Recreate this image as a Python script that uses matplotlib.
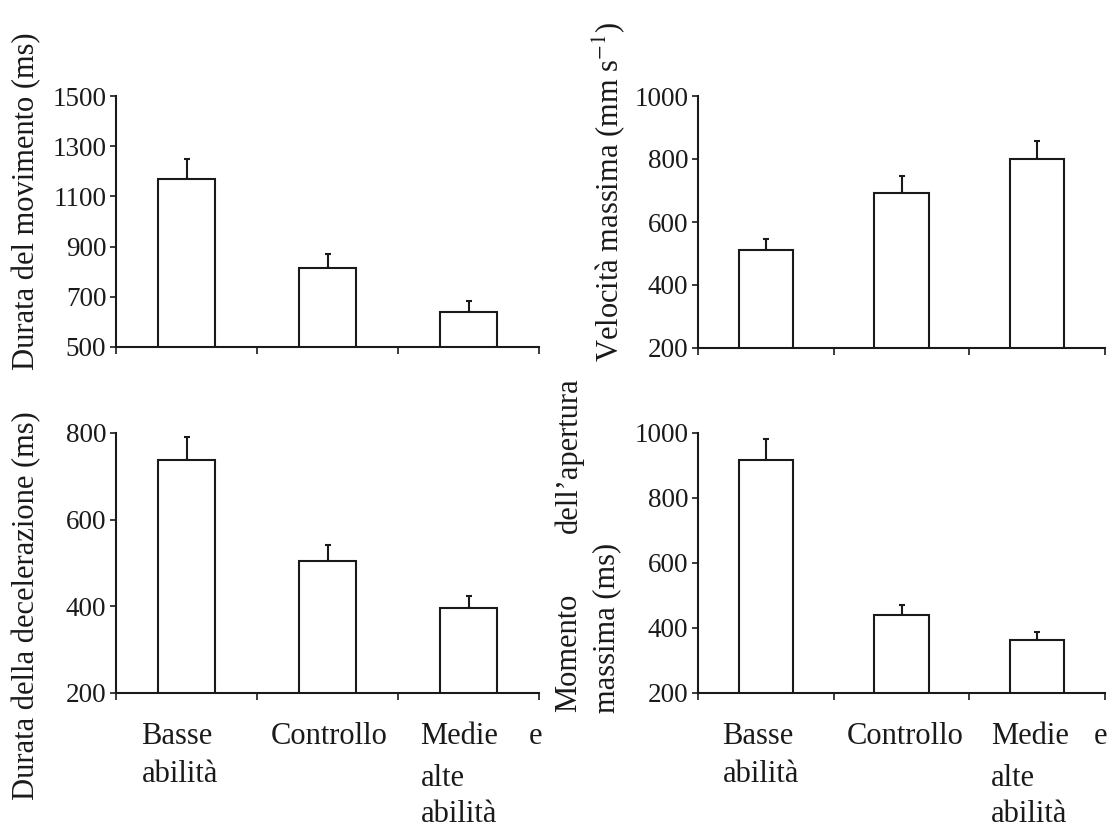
import matplotlib
matplotlib.use('Agg')
import matplotlib.pyplot as plt

plt.rcParams['font.family'] = ['Liberation Serif', 'DejaVu Serif']
plt.rcParams['mathtext.fontset'] = 'stix'

# ── Data ────────────────────────────────────────────────────────────────────
groups = ['Basse abilità', 'Controllo', 'Medie e alte abilità']

durata_mov = [1168, 814, 638]
durata_mov_err = [80, 58, 44]

velocita = [510, 693, 800]
velocita_err = [36, 52, 58]

durata_dec = [737, 503, 396]
durata_dec_err = [53, 38, 28]

momento = [918, 439, 361]
momento_err = [64, 31, 27]

yticks_mov = [500, 700, 900, 1100, 1300, 1500]
yticks_vel = [200, 400, 600, 800, 1000]
yticks_dec = [200, 400, 600, 800]
yticks_mom = [200, 400, 600, 800, 1000]

W, H = 1117, 831
INK = '#1a1a1a'
LABEL_FS = 22
TICK_FS = 19.5

fig = plt.figure(figsize=(W / 100, H / 100), dpi=100)
fig.patch.set_facecolor('white')


def px_axes(x0, x1, y0, y1):
    # axes box from pixel edges (left, right, top, bottom)
    return fig.add_axes([x0 / W, 1 - y1 / H, (x1 - x0) / W, (y1 - y0) / H])


def bar_panel(ax, vals, errs, yticks):
    xs = [i + 0.5 for i in range(len(vals))]
    ax.bar(xs, vals, width=0.4, bottom=0, color='white', edgecolor=INK,
           linewidth=1.5, zorder=2)
    ax.errorbar(xs, vals, yerr=[[0] * len(errs), errs], fmt='none',
                ecolor=INK, elinewidth=1.5, capsize=2.5, capthick=1.5, zorder=1)
    ax.set_xlim(0, len(vals))
    ax.set_ylim(yticks[0], yticks[-1])
    ax.set_yticks(yticks)
    ax.set_xticks(range(len(vals) + 1))
    ax.set_xticklabels([])
    for s in ['top', 'right']:
        ax.spines[s].set_visible(False)
    for s in ['left', 'bottom']:
        ax.spines[s].set_color(INK)
        ax.spines[s].set_linewidth(1.5)
    ax.tick_params(axis='y', direction='out', length=4, width=1.2,
                   colors=INK, labelsize=TICK_FS, pad=3)
    ax.tick_params(axis='x', direction='out', length=5, width=1.2, colors=INK)
    ax.set_facecolor('white')


def group_labels(ax):
    # (text, x in data units, alignment, baseline distance below axis in px)
    lines = [
        ('Basse', 0.18, 'left', 52),
        ('abilità', 0.18, 'left', 89),
        ('Controllo', 1.10, 'left', 52),
        ('Medie', 2.16, 'left', 52),
        ('e', 3.02, 'right', 52),
        ('alte', 2.16, 'left', 93),
        ('abilità', 2.16, 'left', 130),
    ]
    for txt, x, ha, dy in lines:
        ax.annotate(txt, xy=(x, 0), xycoords=('data', 'axes fraction'),
                    xytext=(0, -dy * 0.72), textcoords='offset points',
                    ha=ha, va='baseline', fontsize=LABEL_FS, color=INK,
                    annotation_clip=False)


ax1 = px_axes(116, 539, 96, 347)
bar_panel(ax1, durata_mov, durata_mov_err, yticks_mov)

ax2 = px_axes(698, 1105, 96, 348)
bar_panel(ax2, velocita, velocita_err, yticks_vel)

ax3 = px_axes(116, 539, 433, 692.5)
bar_panel(ax3, durata_dec, durata_dec_err, yticks_dec)
group_labels(ax3)

ax4 = px_axes(698, 1105, 433, 692.5)
bar_panel(ax4, momento, momento_err, yticks_mom)
group_labels(ax4)


# ── y labels ────────────────────────────────────────────────────────────────
def ylab(text, x, y, va='center'):
    fig.text(x / W, 1 - y / H, text, rotation=90, ha='center', va=va,
             fontsize=LABEL_FS, color=INK)


ylab('Durata del movimento (ms)', 27, 201)
ylab('Velocità massima (mm s$^{-1}$)', 609, 192)
ylab('Durata della decelerazione (ms)', 27, 606)
ylab('Momento', 569, 712, va='bottom')
ylab('dell’apertura', 569, 377, va='top')
ylab('massima (ms)', 607, 713, va='bottom')

fig.savefig('out.png', dpi=100, facecolor='white')
